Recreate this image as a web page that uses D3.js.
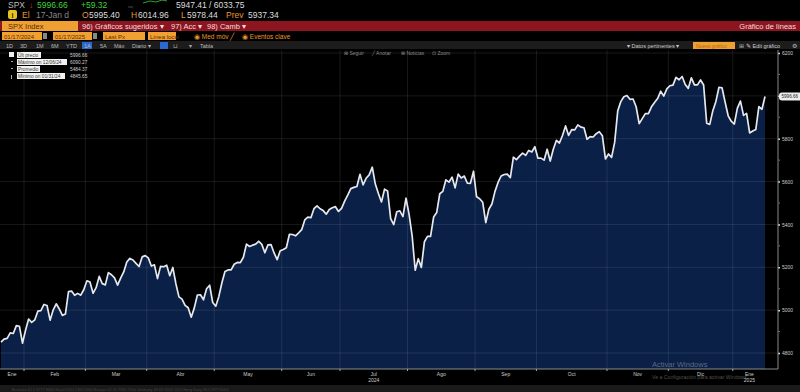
<!DOCTYPE html>
<html lang="es">
<head>
<meta charset="UTF-8">
<title>SPX Index - Gráfico de líneas</title>
<script src="https://d3js.org/d3.v7.min.js"></script>
<style>
    body { margin: 0; background: #000; overflow: hidden; }
    svg { display: block; font-family: "Liberation Sans", Arial, sans-serif; }
</style>
</head>
<body>
<div id="chart"></div>
<script>
    // Daily closes, SPX Index, one array per month (trading days only)
    const jan24 = [4850.43, 4864.60, 4868.55, 4894.16, 4890.97, 4927.93, 4924.97, 4845.65];
    const feb24 = [4906.19, 4958.61, 4942.81, 4954.23, 4995.06, 4997.91, 5026.61, 5021.84, 4953.17, 5000.62,
                   5029.73, 5005.57, 4975.51, 4981.80, 5087.03, 5088.80, 5069.53, 5078.18, 5069.76, 5096.27];
    const mar24 = [5137.08, 5130.95, 5078.65, 5104.76, 5157.36, 5123.69, 5117.94, 5175.27, 5165.31, 5150.48,
                   5117.09, 5149.42, 5178.51, 5224.62, 5241.53, 5234.18, 5218.19, 5203.58, 5248.49, 5254.35];
    const apr24 = [5243.77, 5205.81, 5211.49, 5147.21, 5204.34, 5202.39, 5209.91, 5160.64, 5199.06, 5123.41,
                   5061.82, 5051.41, 5022.21, 5011.12, 4967.23, 5010.60, 5070.55, 5071.63, 5048.42, 5099.96,
                   5116.17, 5035.69];
    const may24 = [5018.39, 5064.20, 5127.79, 5180.74, 5187.70, 5187.67, 5214.08, 5222.68, 5221.42, 5246.68,
                   5308.15, 5297.10, 5303.27, 5308.13, 5321.41, 5307.01, 5267.84, 5304.72, 5306.04, 5266.95,
                   5235.48, 5277.51];
    const jun24 = [5283.40, 5291.34, 5354.03, 5352.96, 5346.99, 5360.79, 5375.32, 5421.03, 5433.74, 5431.60,
                   5473.23, 5487.03, 5473.17, 5464.62, 5447.87, 5469.30, 5477.90, 5482.87, 5460.48];
    const jul24 = [5475.09, 5509.01, 5537.02, 5567.19, 5572.85, 5576.98, 5633.91, 5584.54, 5615.35, 5631.22,
                   5667.20, 5588.27, 5544.59, 5505.00, 5564.41, 5555.74, 5427.13, 5399.22, 5459.10, 5463.54,
                   5436.44, 5522.30];
    const aug24 = [5446.68, 5346.56, 5186.33, 5240.03, 5199.50, 5319.31, 5344.16, 5344.39, 5434.43, 5455.21,
                   5543.22, 5554.25, 5608.25, 5597.12, 5620.85, 5570.64, 5634.61, 5616.84, 5625.80, 5592.18,
                   5591.96, 5648.40];
    const sep24 = [5528.93, 5520.07, 5503.41, 5408.42, 5471.05, 5495.52, 5554.13, 5595.76, 5626.02, 5633.09,
                   5634.58, 5618.26, 5713.64, 5702.55, 5718.57, 5732.93, 5722.26, 5745.37, 5738.17, 5762.48];
    const oct24 = [5708.75, 5709.54, 5699.94, 5751.07, 5695.94, 5751.13, 5792.04, 5780.05, 5815.03, 5859.85,
                   5815.26, 5842.47, 5841.47, 5864.67, 5853.98, 5851.20, 5797.42, 5809.86, 5808.12, 5823.52,
                   5832.92, 5813.67, 5705.45];
    const nov24 = [5728.80, 5712.69, 5782.76, 5929.04, 5973.10, 5995.54, 6001.35, 5983.99, 5985.38, 5949.17,
                   5870.62, 5893.62, 5916.98, 5917.11, 5948.71, 5969.34, 5987.37, 6021.63, 5998.74, 6032.38];
    const dec24 = [6047.15, 6049.88, 6086.49, 6075.11, 6090.27, 6052.85, 6034.91, 6084.19, 6051.25, 6051.09,
                   6074.08, 6050.61, 5872.16, 5867.08, 5930.85, 5974.07, 6040.04, 6037.59, 5970.84, 5906.94,
                   5881.63];
    const jan25 = [5868.55, 5942.47, 5975.38, 5909.03, 5918.25, 5827.04, 5836.22, 5842.91, 5949.91, 5937.34,
                   5996.66];

    const monthLabels = ["Ene", "Feb", "Mar", "Abr", "May", "Jun", "Jul", "Ago", "Sep", "Oct", "Nov", "Dic", "Ene"];
    const monthSeries = [jan24, feb24, mar24, apr24, may24, jun24, jul24, aug24, sep24, oct24, nov24, dec24, jan25];
    const yearLabels = [{ month: 6, text: "2024" }, { month: 12, text: "2025" }];
    const yTicks = [4800, 5000, 5200, 5400, 5600, 5800, 6000, 6200];

    const closes = monthSeries.flat();
    const lastPx = closes[closes.length - 1];

    const W = 800, H = 392;
    const plotTop = 50, plotBottom = 369, axisX = 778;

    const svg = d3.select("#chart").append("svg")
        .attr("width", W).attr("height", H)
        .style("background", "#000");

    const x = d3.scaleLinear().domain([0, closes.length - 1]).range([1, 765]);
    const y = d3.scaleLinear().domain([4800, 6200]).range([353, 53]);

    // ---------- header rows ----------
    const hdr = svg.append("g").attr("font-size", 8.5);
    function txt(g, xx, yy, s, col, opts = {}) {
        const t = g.append("text").attr("x", xx).attr("y", yy).attr("fill", col).text(s);
        if (opts.size) t.attr("font-size", opts.size);
        if (opts.anchor) t.attr("text-anchor", opts.anchor);
        if (opts.weight) t.attr("font-weight", opts.weight);
        return t;
    }

    // row 1
    txt(hdr, 8, 8, "SPX", "#bbb");
    txt(hdr, 29, 8, "↓", "#e03030");
    txt(hdr, 37, 8, d3.format(".2f")(lastPx), "#3fd13f");
    txt(hdr, 81, 8, "+59.32", "#3fd13f");
    txt(hdr, 128, 8, "ᵥₒₗ", "#666", { size: 6 });
    hdr.append("path").attr("d", "M143,3 L150,1 L156,2 L162,0 L167,1").attr("fill", "none").attr("stroke", "#2f9e2f").attr("stroke-width", 1);
    txt(hdr, 176, 8, "5947.41 / 6033.75", "#ddd");

    // row 2
    hdr.append("rect").attr("x", 8).attr("y", 10).attr("width", 9).attr("height", 9).attr("rx", 2).attr("fill", "#e8c21a");
    txt(hdr, 12.5, 17.5, "i", "#222", { size: 7, anchor: "middle", weight: "bold" });
    txt(hdr, 22, 18, "El", "#e8952a");
    txt(hdr, 36, 18, "17-Jan d", "#888");
    txt(hdr, 82, 18, "O", "#e8952a");
    txt(hdr, 89, 18, "5995.40", "#ddd");
    txt(hdr, 131, 18, "H", "#e8952a");
    txt(hdr, 138, 18, "6014.96", "#ddd");
    txt(hdr, 181, 18, "L", "#e8952a");
    txt(hdr, 187, 18, "5978.44", "#ddd");
    txt(hdr, 226, 18, "Prev", "#e8952a");
    txt(hdr, 248, 18, "5937.34", "#ddd");

    // row 3 red bar
    hdr.append("rect").attr("x", 0).attr("y", 21).attr("width", W).attr("height", 10).attr("fill", "#8c1520");
    hdr.append("rect").attr("x", 2).attr("y", 21).attr("width", 76).attr("height", 10).attr("fill", "#f0a033");
    txt(hdr, 8, 29, "SPX Index", "#5a2a00", { size: 7.5 });
    txt(hdr, 82, 29, "96) Gráficos sugeridos ▾", "#f2dede", { size: 7.5 });
    txt(hdr, 171, 29, "97) Acc ▾", "#f2dede", { size: 7.5 });
    txt(hdr, 207, 29, "98) Camb ▾", "#f2dede", { size: 7.5 });
    txt(hdr, 796, 29, "Gráfico de líneas", "#f2dede", { size: 7.5, anchor: "end" });

    // row 4 inputs
    const inputs = [
        { x: 2, w: 40, t: "01/17/2024" },
        { x: 53, w: 39, t: "01/17/2025" },
        { x: 103, w: 42, t: "Last Px" },
        { x: 148, w: 28, t: "Línea local" }
    ];
    inputs.forEach(b => {
        hdr.append("rect").attr("x", b.x).attr("y", 32).attr("width", b.w).attr("height", 8).attr("fill", "#f0a033");
        txt(hdr, b.x + 2, 38.5, b.t, "#5a2a00", { size: 6 });
    });
    hdr.append("rect").attr("x", 43).attr("y", 33).attr("width", 4).attr("height", 6).attr("fill", "#888");
    hdr.append("rect").attr("x", 93).attr("y", 33).attr("width", 4).attr("height", 6).attr("fill", "#888");
    txt(hdr, 194, 39, "◉ Med móv ╱", "#e8952a", { size: 6.5 });
    txt(hdr, 242, 39, "◉ Eventos clave", "#e8952a", { size: 6.5 });

    // row 5 toolbar
    hdr.append("rect").attr("x", 0).attr("y", 41).attr("width", W).attr("height", 8).attr("fill", "#1c1c1c");
    const ranges = [["1D", 6], ["3D", 20], ["1M", 36], ["6M", 51], ["YTD", 66], ["1A", 84], ["5A", 100], ["Máx", 114], ["Diario ▾", 132]];
    hdr.append("rect").attr("x", 82).attr("y", 42).attr("width", 10).attr("height", 7).attr("fill", "#2a6ad0");
    ranges.forEach(r => txt(hdr, r[1], 47.5, r[0], "#bbb", { size: 5.5 }));
    hdr.append("rect").attr("x", 160).attr("y", 42).attr("width", 8).attr("height", 7).attr("fill", "#2a6ad0");
    txt(hdr, 173, 47.5, "⊔", "#aaa", { size: 5.5 });
    txt(hdr, 189, 47.5, "▾", "#aaa", { size: 5.5 });
    txt(hdr, 200, 47.5, "Tabla", "#bbb", { size: 5.5 });
    txt(hdr, 627, 47.5, "▾ Datos pertinentes ▾", "#ccc", { size: 5.5 });
    hdr.append("rect").attr("x", 693).attr("y", 42).attr("width", 42).attr("height", 7).attr("fill", "#f0a033");
    txt(hdr, 696, 47.5, "Nuevo gráfico", "#b06a10", { size: 5 });
    txt(hdr, 739, 47.5, "⊞", "#bbb", { size: 5.5 });
    txt(hdr, 746, 47.5, "✎ Edit gráfico", "#ccc", { size: 5.5 });
    txt(hdr, 792, 47.5, "⚙", "#bbb", { size: 6 });

    // ---------- plot ----------
    const plot = svg.append("g");

    const area = d3.area()
        .x((d, i) => x(i))
        .y0(plotBottom)
        .y1(d => y(d));
    const line = d3.line()
        .x((d, i) => x(i))
        .y(d => y(d));

    plot.append("path").datum(closes)
        .attr("d", area)
        .attr("fill", "#0a2046");

    // month boundaries
    const starts = [];
    let acc = 0;
    monthSeries.forEach(m => { starts.push(acc); acc += m.length; });
    const bounds = starts.slice(1).map(s => x(s - 0.5));

    const grid = plot.append("g").attr("stroke", "rgba(255,255,255,0.12)").attr("stroke-width", 0.8);
    bounds.forEach(bx => grid.append("line").attr("x1", bx).attr("x2", bx).attr("y1", plotTop).attr("y2", plotBottom));
    yTicks.forEach(v => grid.append("line").attr("x1", 0).attr("x2", axisX).attr("y1", y(v)).attr("y2", y(v)));

    plot.append("path").datum(closes)
        .attr("d", line)
        .attr("fill", "none")
        .attr("stroke", "#e6e8ee")
        .attr("stroke-width", 1.7)
        .attr("stroke-linejoin", "round");

    // right axis (the tick label hidden under the last-price tag is not drawn)
    const yAxis = d3.axisRight(y).tickValues(yTicks).tickSize(2).tickPadding(2)
        .tickFormat(d => Math.abs(y(d) - y(lastPx)) < 6 ? "" : d3.format("d")(d));
    const ya = svg.append("g").attr("transform", `translate(${axisX},0)`).call(yAxis);
    ya.select(".domain").remove();
    ya.selectAll("text").attr("fill", "#ccc").attr("font-size", 5).attr("font-family", "Liberation Sans, Arial, sans-serif");
    ya.selectAll("line").attr("stroke", "#ddd").attr("stroke-width", 1.5);
    svg.append("line").attr("x1", axisX).attr("x2", axisX).attr("y1", plotTop).attr("y2", plotBottom).attr("stroke", "#8a8a8a");
    // minor ticks
    d3.range(4900, 6200, 200).forEach(v => svg.append("rect")
        .attr("x", axisX + 0.5).attr("y", y(v) - 0.5).attr("width", 1.5).attr("height", 1).attr("fill", "#777"));

    // last price tag
    svg.append("rect").attr("x", 779).attr("y", y(lastPx) - 4).attr("width", 24).attr("height", 8).attr("rx", 3).attr("fill", "#eee");
    svg.append("text").attr("x", 781.5).attr("y", y(lastPx) + 1.8).attr("font-size", 4.6).attr("fill", "#222")
        .text(d3.format(".2f")(lastPx));

    // bottom axis
    svg.append("line").attr("x1", 0).attr("x2", axisX).attr("y1", plotBottom).attr("y2", plotBottom).attr("stroke", "#8a8a8a");
    bounds.forEach(bx => svg.append("line").attr("x1", bx).attr("x2", bx).attr("y1", plotBottom).attr("y2", plotBottom + 2).attr("stroke", "#aaa"));
    const edges = [0].concat(bounds, [axisX - 12]);
    monthLabels.forEach((m, i) => {
        svg.append("text").attr("x", (edges[i] + edges[i + 1]) / 2).attr("y", 375.5)
            .attr("text-anchor", "middle").attr("font-size", 5).attr("fill", "#ccc").text(m);
    });
    yearLabels.forEach(yl => {
        svg.append("text").attr("x", (edges[yl.month] + edges[yl.month + 1]) / 2).attr("y", 382)
            .attr("text-anchor", "middle").attr("font-size", 5).attr("fill", "#ccc").text(yl.text);
    });

    // ---------- in-chart tools + legend ----------
    const tools = [["⊞ Seguir", 344], ["╱ Anotar", 372], ["⊞ Noticias", 401], ["⊡ Zoom", 432]];
    tools.forEach(t => txt(svg, t[1], 55, t[0], "#8a8a8a", { size: 5 }));

    const legend = [
        { label: "Últ precio", value: lastPx, w: 24, mark: "box" },
        { label: "Máximo on 12/06/24", value: d3.max(closes), w: 50, mark: "dash" },
        { label: "Promedio", value: d3.mean(closes), w: 23, mark: "dot" },
        { label: "Mínimo on 01/31/24", value: d3.min(closes), w: 48, mark: "bar" }
    ];
    legend.forEach((l, i) => {
        const ly = 52 + i * 7;
        if (l.mark === "box") svg.append("rect").attr("x", 9).attr("y", ly).attr("width", 5).attr("height", 5).attr("fill", "#eee");
        else svg.append("rect").attr("x", 11).attr("y", ly + 2).attr("width", l.mark === "bar" ? 1 : 2).attr("height", l.mark === "bar" ? 4 : 1).attr("fill", "#aaa");
        svg.append("rect").attr("x", 17).attr("y", ly).attr("width", l.w).attr("height", 6).attr("fill", "#f2f2f2");
        txt(svg, 18, ly + 4.8, l.label, "#333", { size: 4.8 });
        txt(svg, 70, ly + 4.8, d3.format(".2f")(l.value), "#ccc", { size: 4.8 });
    });

    // Windows watermark
    txt(svg, 652, 367, "Activar Windows", "rgba(200,200,200,0.45)", { size: 7.5 });
    txt(svg, 652, 378.5, "Ve a Configuración para activar Windows.", "rgba(200,200,200,0.4)", { size: 5.2 });

    // bottom status bar
    svg.append("rect").attr("x", 0).attr("y", 385).attr("width", W).attr("height", 7).attr("fill", "#1a1a1a");
    txt(svg, 12, 390.5, "Australia 61 2 9777 8600  Brazil 5511 2395 9000  Europe 44 20 7330 7500  Germany 49 69 9204 1210  Hong Kong 852 2977 6000", "#444", { size: 3.8 });
</script>
</body>
</html>
